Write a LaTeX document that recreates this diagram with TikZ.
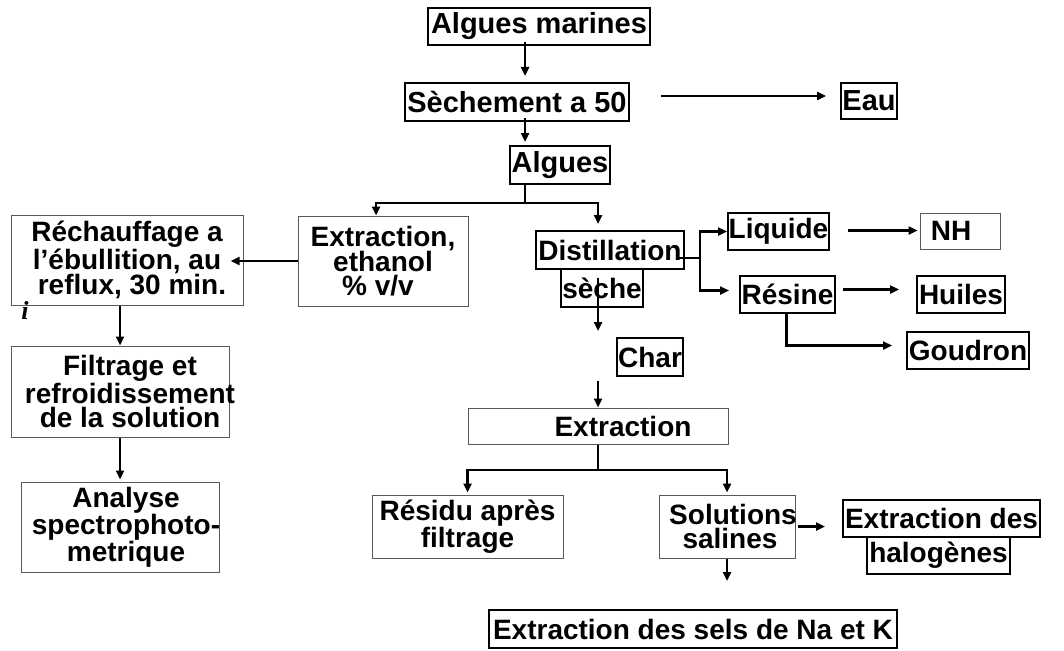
\documentclass[tikz,border=0pt]{standalone}
\usepackage{fontspec}
\setmainfont{Liberation Sans}
\newfontfamily\serifit{Liberation Serif}
\usetikzlibrary{arrows.meta,positioning,calc}
\newcommand{\wideline}[3][150pt]{\makebox[#1]{\hspace*{#2}#3}}
\begin{document}
\begin{tikzpicture}[x=1pt,y=-1pt,
                    thick box/.style={draw,line width=2pt,inner sep=0pt,align=center,font=\bfseries\fontsize{28}{24}\selectfont},
                    thin box/.style={thick box,draw=black!65,line width=1pt},
                    big/.style={font=\bfseries\fontsize{29}{24}\selectfont},
                    arr/.style={line width=2.6pt,-{Triangle[length=9pt,width=8pt]}},
                    link/.style={line width=2.6pt}]
\useasboundingbox (0,0) rectangle (1064,650);

% columns of the connectors
\coordinate (colTop) at (525,0);
\coordinate (colLeft) at (120,0);
\coordinate (colEth) at (376,0);
\coordinate (colMid) at (598,0);

% main line
\node[thick box,big,minimum width=222,minimum height=37] (marines) at (539,26.5) {Algues marines};
\node[thick box,big,minimum width=224,minimum height=38] (sechement) at (517,102) {Sèchement a 50};
\node[thick box,big,minimum width=56,minimum height=36] (eau) at (869,101) {Eau};
\node[thick box,big,minimum width=100,minimum height=38] (algues) at (560,165) {Algues};

% left branch
\node[thin box,minimum width=232,minimum height=90] (rechauf) at (127,260) {Réchauffage a\\l’ébullition, au\\\hspace*{10pt}reflux, 30 min.};
\node[thin box,minimum width=170,minimum height=90] (ethanol) at (383,261) {Extraction,\\ethanol\\\% v/v\hspace*{10pt}};
\node[thin box,minimum width=218,minimum height=91] (filtrage) at (120,391.5) {\wideline{20pt}{Filtrage et}\\\wideline{20pt}{refroidissement}\\\wideline{20pt}{de la solution}};
\node[thin box,minimum width=198,minimum height=90] (analyse) at (120,527) {\wideline{12pt}{Analyse}\\\wideline{12pt}{spectrophoto-}\\\wideline{12pt}{metrique}};
\node[font=\serifit\bfseries\itshape\fontsize{26}{26}\selectfont,inner sep=0pt] (stray) at (25,310) {i};

% right branch
\node[thick box,minimum width=148,minimum height=38] (distil) at (610,250) {Distillation};
\node[thick box,minimum width=82,minimum height=38] (seche) at (602,288) {sèche};
\node[thick box,minimum width=66,minimum height=38] (charb) at (650,357) {Char};
\node[thin box,minimum width=260,minimum height=36] (extract) at (598,426) {\hspace*{50pt}Extraction};
\node[thin box,minimum width=191,minimum height=63] (residu) at (467.5,526.5) {Résidu après\\filtrage};
\node[thin box,minimum width=136,minimum height=63] (solut) at (727,526.5) {\wideline[110pt]{12pt}{Solutions}\\\wideline[110pt]{6pt}{salines}};
\node[thick box,minimum width=197,minimum height=37] (halo) at (941.5,518.5) {Extraction des};
\node[thick box,minimum width=143,minimum height=37] (halob) at (938.5,555.5) {halogènes};
\node[thick box,minimum width=408,minimum height=38] (sels) at (693,629) {Extraction des sels de Na et K};

% products of the distillation
\node[thick box,minimum width=101,minimum height=37] (liquide) at (778.5,231.5) {Liquide};
\node[thin box,minimum width=80,minimum height=36] (nh) at (960,231) {NH\hspace*{18pt}};
\node[thick box,minimum width=95,minimum height=37] (resine) at (787.5,294.5) {Résine};
\node[thick box,minimum width=88,minimum height=37] (huiles) at (961,294.5) {Huiles};
\node[thick box,minimum width=122,minimum height=37] (goudron) at (968,350.5) {Goudron};

\coordinate (splitA) at (525,203);
\coordinate (splitB) at (598,470);
\coordinate (splitC) at (700,258);

\draw[arr,shorten <=-4,shorten >=6] (colTop |- marines.south) -- (colTop |- sechement.north);
\draw[arr,shorten <=31,shorten >=14] ([yshift=6]sechement.east) -- ([yshift=6]sechement.east -| eau.west);
\draw[arr,shorten <=-4,shorten >=3] (colTop |- sechement.south) -- (colTop |- algues.north);
\draw[link] (colTop |- algues.south) -- (splitA);
\draw[arr] (splitA) -| (colEth |- ethanol.north);
\draw[arr,shorten >=6] (splitA) -| (colMid |- distil.north);

\draw[arr,shorten >=-13] (ethanol.west) -- (ethanol.west -| rechauf.east);
\draw[arr] (colLeft |- rechauf.south) -- (colLeft |- filtrage.north);
\draw[arr,shorten >=2] (colLeft |- filtrage.south) -- (colLeft |- analyse.north);

\draw[arr,shorten <=-10,shorten >=6] (colMid |- seche.center) -- (colMid |- charb.north);
\draw[arr,shorten <=4] (colMid |- charb.south) -- (colMid |- extract.north);
\draw[link] (extract.south) -- (splitB);
\draw[arr,shorten >=2] (splitB) -| (residu.north);
\draw[arr,shorten >=2] (splitB) -| (solut.north);
\draw[arr,shorten <=2,shorten >=17] (solut.east) -- (solut.east -| halo.west);
\draw[arr,shorten >=28] (solut.south) -- (sels.north -| solut.south);

\draw[link] ([shift={(-7,8)}]distil.east) -- (splitC);
\draw[arr] (splitC) |- (liquide.west);
\draw[arr,shorten >=10] (splitC) |- ([yshift=4]resine.west);
\draw[arr,shorten <=18,shorten >=2] ([yshift=1]liquide.east) -- ([yshift=1]liquide.east -| nh.west);
\draw[arr,shorten <=7,shorten >=17] ([yshift=5]resine.east) -- ([yshift=5]resine.east -| huiles.west);
\draw[arr,shorten >=14] ([xshift=-1]resine.south) |- ([yshift=5]goudron.west);
\end{tikzpicture}
\end{document}
